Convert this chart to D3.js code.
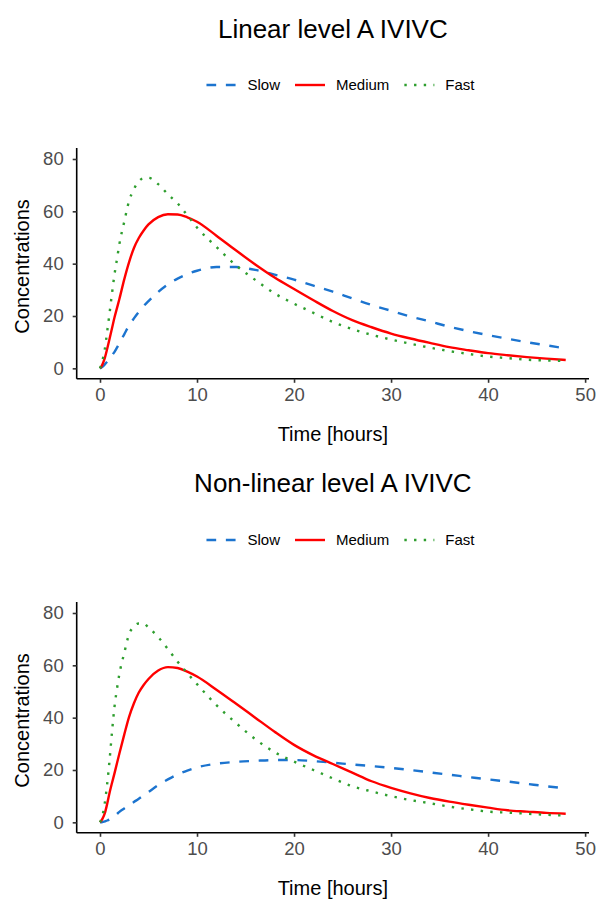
<!DOCTYPE html>
<html>
<head>
<meta charset="utf-8">
<script src="https://cdn.jsdelivr.net/npm/d3@7"></script>
<style>
  html, body { margin: 0; padding: 0; background: #ffffff; }
  svg { display: block; font-family: "Liberation Sans", Arial, sans-serif; }
</style>
</head>
<body>
<svg id="chart" width="597" height="899"></svg>
<script>
// ---------------- data ----------------
const hours = [0, 0.25, 0.5, 0.75, 1, 1.25, 1.5, 1.75, 2, 2.5, 3, 3.5, 4, 4.5, 5, 6, 7, 8, 9, 10,
               12, 14, 16, 18, 20, 22, 24, 26, 28, 30, 32, 34, 36, 38, 40, 42, 44, 46, 48];

const seriesNames = ["Slow", "Medium", "Fast"];
const panelTitles = ["Linear level A IVIVC", "Non-linear level A IVIVC"];
const xTicks = [0, 10, 20, 30, 40, 50];
const yTicks = [0, 20, 40, 60, 80];
const xLabel = "Time [hours]";
const yLabel = "Concentrations";

const linearSlow = [0, 0.6, 1.5, 2.6, 3.8, 5.0, 6.3, 7.9, 9.6, 13.0, 16.4, 19.1, 21.6, 23.8, 25.7, 29.2, 32.1, 34.3, 36.0, 37.3,
                    38.7, 38.7, 37.6, 35.8, 33.9, 31.6, 29.3, 26.7, 24.2, 22.0, 19.8, 17.9, 15.9, 14.2, 12.7, 11.3, 10.0, 8.8, 7.6];
const linearMedium = [0, 1.5, 4.0, 7.6, 11.5, 15.5, 19.5, 23.0, 26.5, 34.0, 40.6, 46.0, 49.8, 52.7, 55.0, 57.8, 58.9, 58.8, 57.7, 56.0,
                      50.7, 45.1, 39.7, 34.7, 30.3, 26.0, 21.9, 18.4, 15.7, 13.3, 11.4, 9.7, 8.1, 6.9, 5.8, 5.0, 4.3, 3.7, 3.2];
const linearFast = [0, 3.0, 7.4, 14.3, 21.5, 29.0, 36.0, 41.7, 47.5, 56.0, 64.0, 68.5, 71.4, 72.7, 72.8, 70.4, 66.5, 63.0, 58.5, 53.8,
                    46.4, 39.4, 33.8, 28.6, 24.7, 21.2, 17.7, 15.0, 12.8, 11.0, 9.4, 7.9, 6.6, 5.5, 4.5, 3.9, 3.3, 3.0, 2.8];

const nonlinearSlow = [0, 0.1, 0.4, 0.7, 1.1, 1.7, 2.4, 3.2, 4.0, 5.3, 6.6, 7.8, 9.0, 10.3, 11.6, 14.2, 16.4, 18.3, 19.8, 21.0,
                       22.4, 23.1, 23.5, 23.8, 23.8, 23.4, 22.8, 22.1, 21.5, 20.8, 20.0, 19.1, 18.2, 17.3, 16.4, 15.6, 14.7, 13.8, 13.0];
const nonlinearMedium = [0, 1.3, 3.5, 7.2, 11.5, 15.2, 18.8, 22.6, 26.3, 33.5, 40.3, 45.5, 49.6, 52.5, 54.8, 58.0, 59.3, 59.0, 57.6, 55.7,
                         50.7, 45.4, 40.0, 34.6, 29.6, 25.6, 22.3, 19.0, 15.7, 13.2, 11.1, 9.3, 7.9, 6.7, 5.6, 4.6, 4.1, 3.6, 3.3];
const nonlinearFast = [0, 2.5, 7.5, 15.0, 24.3, 35.0, 44.3, 51.0, 56.7, 64.7, 71.9, 74.9, 76.0, 76.0, 74.4, 70.8, 66.2, 61.4, 57.0, 52.8,
                       44.8, 38.0, 31.8, 26.8, 23.2, 20.0, 16.8, 13.8, 11.8, 10.0, 8.5, 7.3, 6.0, 5.0, 4.1, 3.7, 3.3, 2.9, 2.6];

// ---------------- styling ----------------
const colors = { Slow: "#1C74CF", Medium: "#FF0000", Fast: "#2E9E2E" };
const lw = 2.4;
const dashes = { Slow: "9.7,9.7", Medium: null, Fast: "2.4,7.3" };

const svg = d3.select("#chart");

const panels = [
  { title: panelTitles[0], data: [linearSlow, linearMedium, linearFast],
    titleY: 38, legendY: 85, top: 148.0, bottom: 378.8 },
  { title: panelTitles[1], data: [nonlinearSlow, nonlinearMedium, nonlinearFast],
    titleY: 492, legendY: 540, top: 602.0, bottom: 832.8 }
];

const left = 76.7, right = 589;

panels.forEach(p => {
  const g = svg.append("g");
  const x = d3.scaleLinear().domain([-2.4, 50.4]).range([left, right]);
  const y = d3.scaleLinear().domain([-4.0, 84.2]).range([p.bottom, p.top]);

  // title
  g.append("text")
    .attr("x", (left + right) / 2).attr("y", p.titleY)
    .attr("text-anchor", "middle")
    .attr("font-size", 26).attr("fill", "#000")
    .text(p.title);

  // legend
  const lg = g.append("g");
  let cx = 0;
  seriesNames.forEach((name, i) => {
    const it = lg.append("g").attr("transform", `translate(${cx},0)`);
    const ln = it.append("line")
      .attr("x1", 0).attr("x2", 30).attr("y1", 0).attr("y2", 0)
      .attr("stroke", colors[name]).attr("stroke-width", lw)
      .attr("stroke-linecap", "butt");
    if (dashes[name]) ln.attr("stroke-dasharray", dashes[name]);
    const tx = it.append("text")
      .attr("x", 41).attr("y", 5.3).attr("font-size", 15).attr("fill", "#000")
      .text(name);
    const w = tx.node().getComputedTextLength();
    cx += 41 + w + 15;
  });
  const totalW = cx - 15;
  lg.attr("transform", `translate(${340.5 - totalW / 2},${p.legendY})`);

  // lines
  const line = d3.line()
    .x((d, i) => x(hours[i]))
    .y(d => y(d))
    .curve(d3.curveMonotoneX);

  seriesNames.forEach((name, i) => {
    const path = g.append("path")
      .datum(p.data[i])
      .attr("fill", "none")
      .attr("stroke", colors[name])
      .attr("stroke-width", lw)
      .attr("stroke-linecap", "butt")
      .attr("stroke-linejoin", "round")
      .attr("d", line);
    if (dashes[name]) path.attr("stroke-dasharray", dashes[name]);
  });

  // axes
  const xAxis = g.append("g")
    .attr("transform", `translate(0,${p.bottom})`)
    .call(d3.axisBottom(x).tickValues(xTicks).tickSize(4).tickPadding(5).tickSizeOuter(0));
  const yAxis = g.append("g")
    .attr("transform", `translate(${left},0)`)
    .call(d3.axisLeft(y).tickValues(yTicks).tickSize(4).tickPadding(9).tickSizeOuter(0));

  [xAxis, yAxis].forEach(ax => {
    ax.select(".domain").attr("stroke", "#000").attr("stroke-width", 1.6);
    ax.selectAll(".tick line").attr("stroke", "#333").attr("stroke-width", 1.6);
    ax.selectAll(".tick text").attr("fill", "#4D4D4D").attr("font-size", 18.5)
      .attr("font-family", "'Liberation Sans', Arial, sans-serif");
  });
  xAxis.select(".domain").attr("d", `M${left},0H${right}`);
  yAxis.select(".domain").attr("d", `M0,${p.top}V${p.bottom}`);

  // axis titles
  g.append("text")
    .attr("x", (left + right) / 2).attr("y", p.bottom + 62)
    .attr("text-anchor", "middle").attr("font-size", 20).attr("fill", "#000")
    .text(xLabel);
  g.append("text")
    .attr("transform", `translate(29,${(p.top + p.bottom) / 2 + 3}) rotate(-90)`)
    .attr("text-anchor", "middle").attr("font-size", 20).attr("fill", "#000")
    .text(yLabel);
});
</script>
</body>
</html>
